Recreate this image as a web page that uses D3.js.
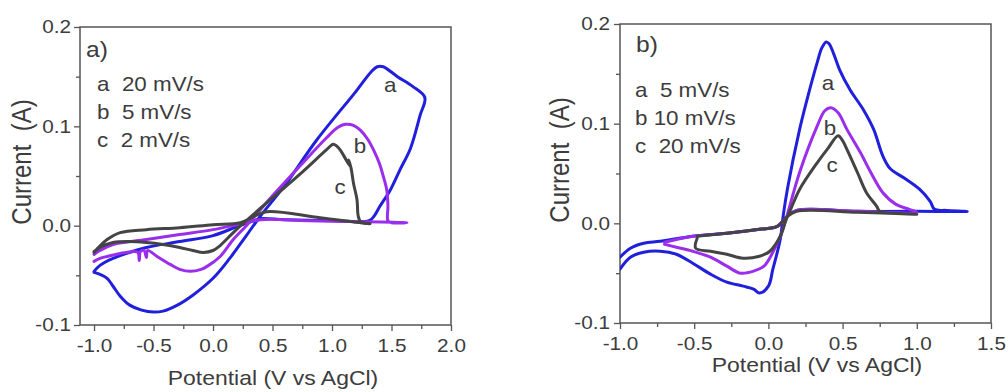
<!DOCTYPE html>
<html>
<head>
<meta charset="utf-8">
<script src="https://cdnjs.cloudflare.com/ajax/libs/d3/7.8.5/d3.min.js"></script>
<style>
  body { margin: 0; background: #fff; }
  text { font-family: "Liberation Sans", Arial, sans-serif; fill: #3c3c3c; }
</style>
</head>
<body>
<div id="chart"></div>
<script>
// values: [potential (V vs AgCl), current (A)]
var xTicksA = [-1.0, -0.5, 0.0, 0.5, 1.0, 1.5, 2.0]
var xMinorA = [-0.75, -0.25, 0.25, 0.75, 1.25, 1.75]
var xTicksB = [-1.0, -0.5, 0.0, 0.5, 1.0, 1.5]
var xMinorB = [-0.75, -0.25, 0.25, 0.75, 1.25]
var yTicks = [-0.1, 0.0, 0.1, 0.2]
var yMinor = [-0.05, 0.05, 0.15]
var letters = ["a", "b", "c"]
var legendA = ["a  20 mV/s", "b  5 mV/s", "c  2 mV/s"]
var legendB = ["a  5 mV/s", "b 10 mV/s", "c  20 mV/s"]
var colors = ["#2020dc", "#9a2eec", "#444444"]

// panel a)
var a20 = [[-1.00,-0.047],[-0.95,-0.049],[-0.89,-0.053],[-0.84,-0.061],[-0.78,-0.071],[-0.70,-0.080],[-0.60,-0.085],
  [-0.50,-0.087],[-0.42,-0.086],[-0.30,-0.080],[-0.17,-0.070],[0.00,-0.053],[0.14,-0.033],[0.28,-0.010],[0.40,0.010],
  [0.60,0.040],[0.87,0.086],[1.20,0.135],[1.33,0.155],[1.38,0.160],[1.43,0.160],[1.55,0.150],[1.68,0.140],[1.78,0.129],
  [1.74,0.111],[1.66,0.078],[1.57,0.056],[1.49,0.036],[1.40,0.019],[1.35,0.009],[1.31,0.005],[1.00,0.005],[0.60,0.006],
  [0.40,0.007],[0.34,0.005],[0.20,-0.001],[0.00,-0.010],[-0.28,-0.016],[-0.56,-0.022],[-0.84,-0.033],[-0.95,-0.040],[-1.00,-0.046]]
var a5 = [[-1.00,-0.036],[-0.95,-0.033],[-0.89,-0.031],[-0.78,-0.028],[-0.66,-0.026],[-0.63,-0.027],[-0.62,-0.035],
  [-0.61,-0.026],[-0.58,-0.025],[-0.56,-0.032],[-0.55,-0.025],[-0.47,-0.031],[-0.36,-0.039],[-0.28,-0.044],[-0.19,-0.046],
  [-0.10,-0.044],[-0.05,-0.041],[0.06,-0.031],[0.17,-0.014],[0.28,0.000],[0.50,0.030],[0.73,0.060],[0.95,0.088],[1.05,0.099],
  [1.11,0.102],[1.18,0.101],[1.24,0.096],[1.30,0.087],[1.35,0.076],[1.40,0.062],[1.43,0.050],[1.46,0.036],[1.47,0.020],
  [1.47,0.005],[1.50,0.003],[1.63,0.003],[1.30,0.004],[0.80,0.005],[0.40,0.006],[0.20,0.001],[0.00,-0.004],[-0.28,-0.009],
  [-0.56,-0.014],[-0.84,-0.019],[-0.95,-0.025],[-1.00,-0.029]]
var a2 = [[-1.00,-0.027],[-0.95,-0.022],[-0.84,-0.017],[-0.70,-0.016],[-0.56,-0.017],[-0.42,-0.019],[-0.28,-0.022],
  [-0.17,-0.025],[-0.08,-0.027],[0.00,-0.025],[0.06,-0.020],[0.17,-0.007],[0.26,0.003],[0.50,0.028],[0.75,0.054],
  [0.95,0.076],[1.01,0.082],[1.04,0.080],[1.07,0.076],[1.11,0.068],[1.15,0.060],[1.14,0.066],[1.16,0.058],[1.18,0.043],
  [1.21,0.026],[1.22,0.010],[1.24,0.004],[1.32,0.002],[0.90,0.008],[0.45,0.014],[0.34,0.009],[0.23,0.003],[0.00,0.001],
  [-0.28,-0.002],[-0.56,-0.004],[-0.78,-0.007],[-0.89,-0.014],[-0.98,-0.024],[-1.00,-0.026]]

// panel b)
var b5 = [[-1.00,-0.046],[-0.93,-0.034],[-0.84,-0.029],[-0.73,-0.028],[-0.62,-0.031],[-0.51,-0.040],[-0.39,-0.051],
  [-0.28,-0.059],[-0.17,-0.063],[-0.10,-0.066],[-0.06,-0.070],[0.00,-0.063],[0.03,-0.046],[0.08,-0.016],[0.10,0.008],
  [0.13,0.036],[0.21,0.094],[0.26,0.124],[0.33,0.162],[0.36,0.176],[0.39,0.182],[0.41,0.180],[0.44,0.170],[0.48,0.154],
  [0.55,0.134],[0.64,0.114],[0.71,0.094],[0.77,0.068],[0.82,0.055],[0.93,0.044],[1.02,0.034],[1.09,0.022],[1.12,0.014],
  [1.20,0.013],[1.34,0.012],[1.00,0.012],[0.60,0.012],[0.19,0.013],[0.12,0.006],[0.06,-0.003],[-0.06,-0.006],
  [-0.28,-0.010],[-0.51,-0.013],[-0.73,-0.018],[-0.84,-0.020],[-0.93,-0.025],[-1.00,-0.034]]
var b10 = [[-0.70,-0.021],[-0.62,-0.024],[-0.51,-0.028],[-0.39,-0.034],[-0.28,-0.043],[-0.19,-0.050],[-0.10,-0.048],
  [-0.03,-0.043],[0.03,-0.029],[0.08,-0.013],[0.12,0.005],[0.21,0.051],[0.33,0.098],[0.38,0.113],[0.42,0.116],[0.47,0.111],
  [0.53,0.094],[0.62,0.071],[0.69,0.051],[0.77,0.031],[0.86,0.019],[0.95,0.014],[1.00,0.011],[0.60,0.012],[0.19,0.013],
  [0.12,0.006],[0.06,-0.003],[-0.06,-0.006],[-0.28,-0.010],[-0.51,-0.013],[-0.70,-0.019]]
var b20 = [[-0.48,-0.015],[-0.49,-0.025],[-0.39,-0.028],[-0.28,-0.031],[-0.17,-0.035],[-0.06,-0.033],[0.01,-0.028],
  [0.08,-0.013],[0.12,0.004],[0.15,0.014],[0.21,0.034],[0.33,0.061],[0.40,0.075],[0.47,0.088],[0.50,0.083],[0.53,0.074],
  [0.60,0.051],[0.66,0.031],[0.73,0.017],[0.75,0.012],[0.85,0.010],[1.00,0.009],[0.60,0.011],[0.19,0.012],[0.12,0.006],
  [0.06,-0.003],[-0.06,-0.006],[-0.28,-0.010],[-0.48,-0.013]]

var SX = 1.12  // the figure's text is a bit wider than plain Arial

var svg = d3.select("#chart").append("svg")
  .attr("width", 1008)
  .attr("height", 392)
  .style("background", "#fff")

function label(g, x, y, str, size, anchor) {
  return g.append("text")
    .attr("transform", "translate(" + x + "," + y + ") scale(" + SX + ",1)")
    .attr("text-anchor", anchor || "start")
    .style("font-size", size + "px")
    .style("white-space", "pre")
    .text(str)
}

function panel(p) {
  var x = d3.scaleLinear().domain(p.xDomain).range([p.left, p.right])
  var y = d3.scaleLinear().domain([-0.1, 0.2]).range([p.bottom, p.top])
  var g = svg.append("g")

  var clipId = "clip" + p.id
  g.append("clipPath").attr("id", clipId)
    .append("rect")
    .attr("x", p.left).attr("y", p.top)
    .attr("width", p.right - p.left).attr("height", p.bottom - p.top)

  // minor ticks
  g.append("g").attr("transform", "translate(0," + p.bottom + ")")
    .call(d3.axisBottom(x).tickValues(p.xMinor).tickSize(4).tickFormat(""))
  g.append("g").attr("transform", "translate(" + p.left + ",0)")
    .call(d3.axisLeft(y).tickValues(yMinor).tickSize(4).tickFormat(""))

  g.append("g").attr("transform", "translate(0," + p.bottom + ")")
    .call(d3.axisBottom(x).tickValues(p.xTicks).tickSize(6).tickPadding(8)
      .tickFormat(function(d) { return d.toFixed(1) }))
  g.append("g").attr("transform", "translate(" + p.left + ",0)")
    .call(d3.axisLeft(y).tickValues(yTicks).tickSize(6).tickPadding(p.yPad)
      .tickFormat(function(d) { return d.toFixed(1) }))

  g.selectAll(".domain").remove()
  g.selectAll(".tick line").attr("stroke", "#555").attr("stroke-width", 1.3)
  g.selectAll(".tick text")
    .attr("transform", "scale(" + SX + ",1)")
    .style("font-size", "18.5px")
    .style("font-family", "'Liberation Sans', Arial, sans-serif")
    .attr("fill", "#3c3c3c")

  g.append("rect")
    .attr("x", p.left).attr("y", p.top)
    .attr("width", p.right - p.left).attr("height", p.bottom - p.top)
    .attr("fill", "none").attr("stroke", "#555").attr("stroke-width", 1.5)

  var line = d3.line()
    .x(function(d) { return x(d[0]) })
    .y(function(d) { return y(d[1]) })
    .curve(d3.curveCatmullRom.alpha(0.5))

  g.append("g").attr("clip-path", "url(#" + clipId + ")")
    .selectAll("path.cv")
    .data(p.series)
    .enter().append("path")
    .attr("class", "cv")
    .attr("d", line)
    .attr("fill", "none")
    .attr("stroke", function(d, i) { return colors[i] })
    .attr("stroke-width", 3)
    .attr("stroke-linejoin", "round")
    .attr("stroke-linecap", "round")

  // curve letters
  p.letterPos.forEach(function(pos, i) {
    label(g, x(pos[0]), y(pos[1]), letters[i], 20, "middle")
  })

  label(g, p.tagX, p.tagY, p.tag, 22)
  p.legend.forEach(function(s, i) {
    label(g, p.legX, p.legY + i * 28.2, s, 20)
  })

  label(g, p.xTitleX, p.xTitleY, "Potential (V vs AgCl)", 20.5, "middle")
  g.append("text")
    .attr("transform", "translate(" + p.yTitleX + "," + p.yTitleY + ") rotate(-90) scale(1," + SX + ")")
    .attr("text-anchor", "middle")
    .style("font-size", "24px")
    .style("white-space", "pre")
    .text("Current  (A)")
}

panel({
  id: "a", xDomain: [-1.118, 2.0], left: 80, right: 451, top: 27, bottom: 325,
  xTicks: xTicksA, xMinor: xMinorA, yPad: 2,
  series: [a20, a5, a2],
  letterPos: [[1.49, 0.135], [1.235, 0.073], [1.067, 0.032]],
  tag: "a)", tagX: 86, tagY: 57,
  legend: legendA, legX: 97, legY: 90.7,
  xTitleX: 273, xTitleY: 385, yTitleX: 31, yTitleY: 162
})

panel({
  id: "b", xDomain: [-1.0, 1.5], left: 620, right: 991, top: 24, bottom: 323,
  xTicks: xTicksB, xMinor: xMinorB, yPad: 3,
  series: [b5, b10, b20],
  letterPos: [[0.402, 0.134], [0.415, 0.089], [0.429, 0.052]],
  tag: "b)", tagX: 636, tagY: 52,
  legend: legendB, legX: 635, legY: 96.7,
  xTitleX: 817, xTitleY: 372, yTitleX: 569, yTitleY: 160
})
</script>
</body>
</html>
